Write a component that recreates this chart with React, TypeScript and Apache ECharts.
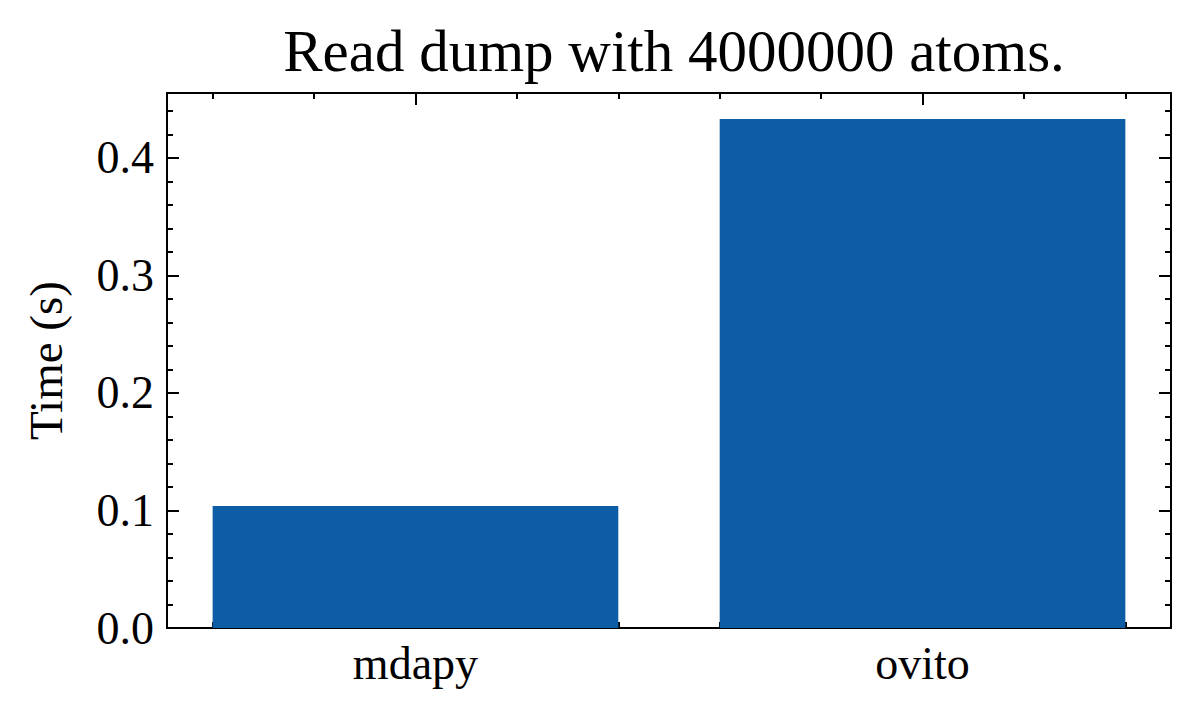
import React, { useEffect, useRef } from "react";
import * as echarts from "echarts";

const categories = ["mdapy", "ovito"];
const times = [0.1038, 0.4332];

const yTicks = [0, 0.1, 0.2, 0.3, 0.4];
const yMinorTicks = [
  0.02, 0.04, 0.06, 0.08, 0.12, 0.14, 0.16, 0.18, 0.22, 0.24, 0.26, 0.28,
  0.32, 0.34, 0.36, 0.38, 0.42, 0.44,
];
const xTicks = [0, 1];
const xMinorTicks = [-0.4, -0.2, 0.2, 0.4, 0.6, 0.8, 1.2, 1.4];

const X_MIN = -0.49;
const X_MAX = 1.49;
const Y_MIN = 0;
const Y_MAX = 0.4553;

const FONT = "Liberation Serif";
const BLUE = "#0C5DA5";

const lineStyle = { color: "#000", width: 2 };

const xAxis = (position, ticks, len, withLabel, withLine) => ({
  type: "value",
  position,
  min: X_MIN,
  max: X_MAX,
  splitLine: { show: false },
  axisLine: { show: withLine, onZero: false, lineStyle },
  axisTick: {
    show: true,
    inside: true,
    length: len,
    customValues: ticks,
    lineStyle: { color: "#000", width: 2 },
  },
  axisLabel: withLabel
    ? {
        show: true,
        customValues: ticks,
        margin: 12,
        fontFamily: FONT,
        fontSize: 46,
        color: "#000",
        formatter: (v) => categories[Math.round(v)] ?? "",
      }
    : { show: false },
});

const yAxis = (position, ticks, len, withLabel, withLine) => ({
  type: "value",
  position,
  min: Y_MIN,
  max: Y_MAX,
  splitLine: { show: false },
  axisLine: { show: withLine, onZero: false, lineStyle },
  axisTick: {
    show: true,
    inside: true,
    length: len,
    customValues: ticks,
    lineStyle: { color: "#000", width: 2 },
  },
  axisLabel: withLabel
    ? {
        show: true,
        customValues: ticks,
        margin: 13,
        fontFamily: FONT,
        fontSize: 46,
        color: "#000",
        formatter: (v) => v.toFixed(1),
      }
    : { show: false },
});

const App = () => {
  const chartRef = useRef(null);

  useEffect(() => {
    if (!chartRef.current) return;
    const chart = echarts.init(chartRef.current, null, { renderer: "svg" });

    const ys = [
      yAxis("left", yTicks, 12, true, true),
      yAxis("left", yMinorTicks, 6, false, false),
      yAxis("right", yTicks, 12, false, true),
      yAxis("right", yMinorTicks, 6, false, false),
    ];
    ys[0].name = "Time (s)";
    ys[0].nameLocation = "middle";
    ys[0].nameGap = 98;
    ys[0].nameTextStyle = { fontFamily: FONT, fontSize: 47, color: "#000" };

    const options = {
      animation: false,
      backgroundColor: "#fff",
      title: {
        text: "Read dump with 4000000 atoms.",
        left: 669,
        top: 16,
        textAlign: "center",
        textStyle: {
          fontFamily: FONT,
          fontSize: 59,
          fontWeight: "normal",
          color: "#000",
        },
      },
      grid: { left: 167, right: 30, top: 93, bottom: 87, containLabel: false },
      xAxis: [
        xAxis("bottom", xTicks, 12, true, true),
        xAxis("bottom", xMinorTicks, 6, false, false),
        xAxis("top", xTicks, 12, false, true),
        xAxis("top", xMinorTicks, 6, false, false),
      ],
      yAxis: ys,
      series: [
        {
          type: "bar",
          xAxisIndex: 0,
          yAxisIndex: 0,
          barWidth: "80%",
          itemStyle: { color: BLUE },
          data: times.map((v, i) => [i, v]),
          z: 1,
        },
      ],
    };

    chart.setOption(options);
    return () => chart.dispose();
  }, []);

  return (
    <div
      ref={chartRef}
      style={{ position: "fixed", left: 0, top: 0, width: "1201px", height: "715px" }}
    />
  );
};

export default App;
